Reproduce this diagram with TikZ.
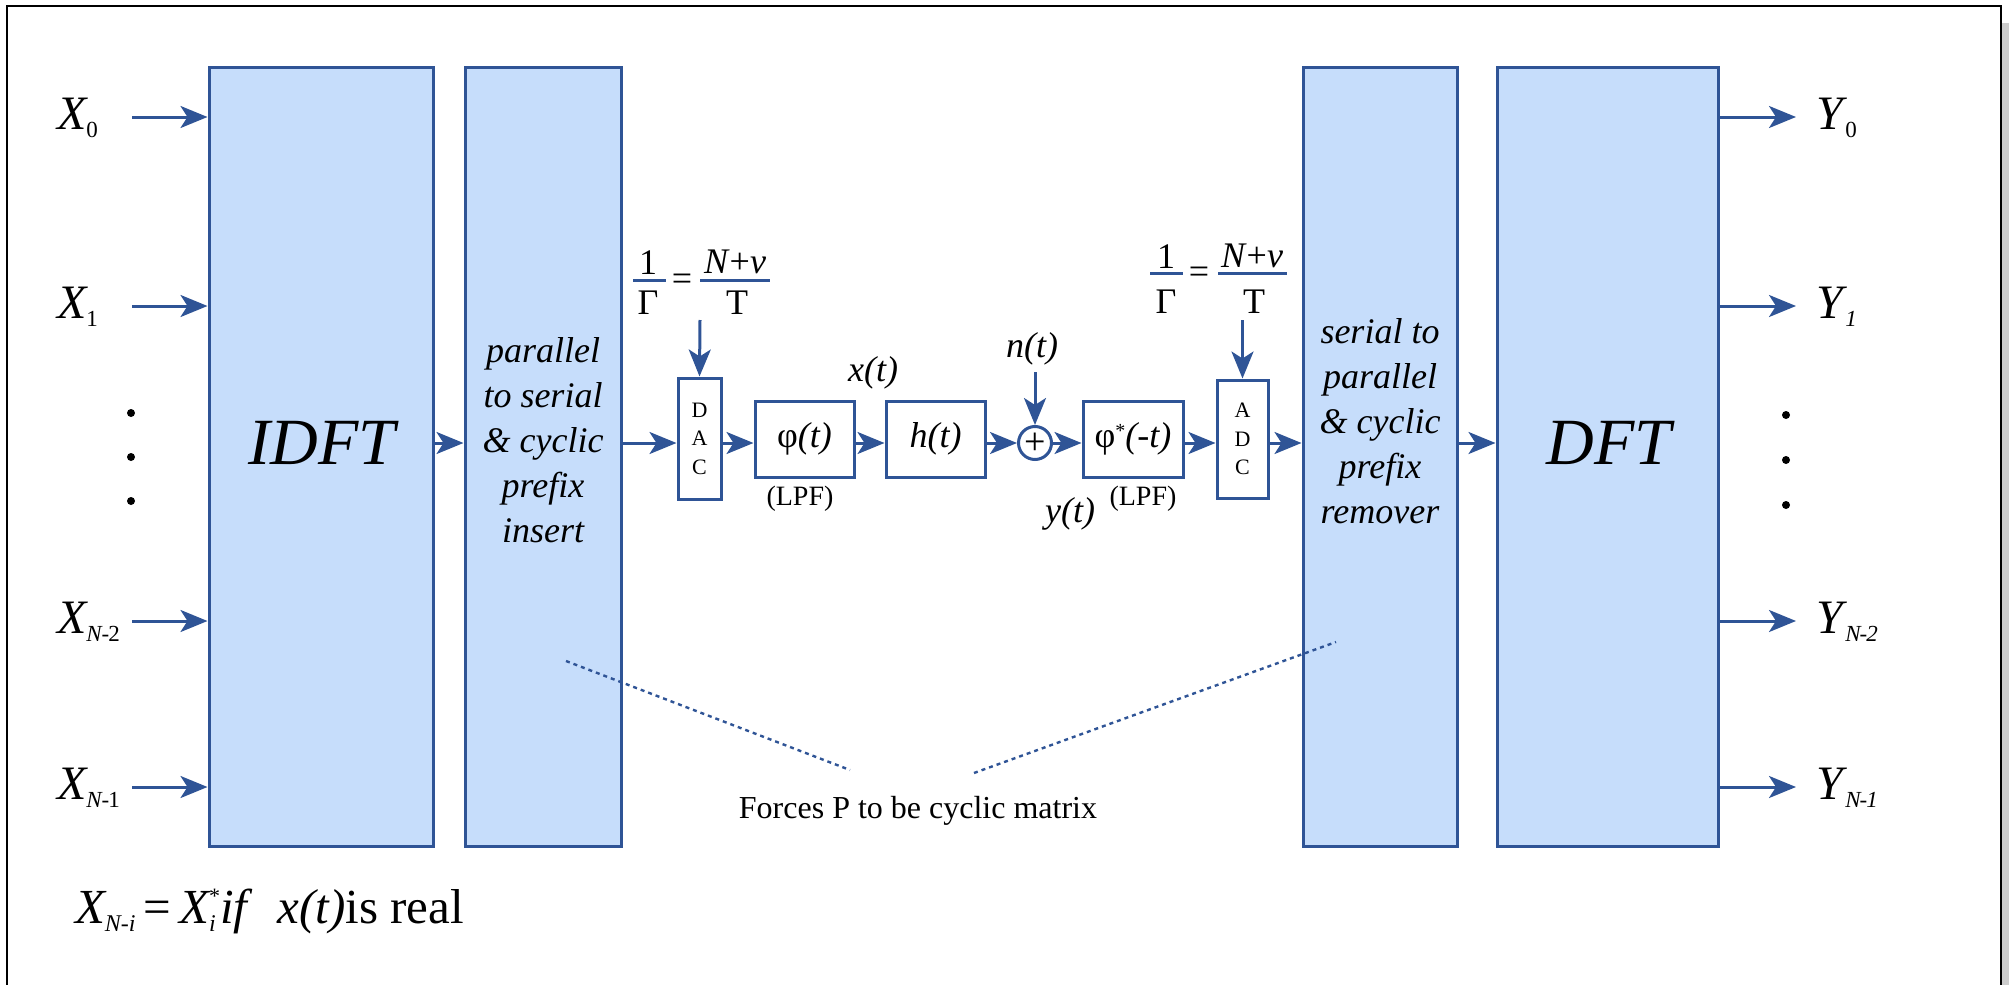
\documentclass[tikz,border=0pt]{standalone}
\usepackage{fontspec}
\setmainfont{Liberation Serif}
\usetikzlibrary{arrows.meta}
\definecolor{lineblue}{RGB}{47,84,150}
\definecolor{fillblue}{RGB}{198,221,251}
\definecolor{shadowgray}{RGB}{204,204,204}
\newcommand{\xlab}[2]{\textit{#1}\kern-1pt\raisebox{-4pt}{\fontsize{11.5pt}{11.5pt}\selectfont #2}}
\begin{document}
\begin{tikzpicture}[x=0.5pt,y=-0.5pt,
  bigbox/.style={draw=lineblue,fill=fillblue,line width=1.5pt,inner sep=0pt,minimum height=389.5pt},
  smallbox/.style={draw=lineblue,fill=white,line width=1.5pt,inner sep=0pt,align=center},
  arr/.style={-{Stealth[length=13.5pt,width=11pt,inset=3.5pt]},draw=lineblue,line width=1.5pt},
  dotline/.style={draw=lineblue,line width=1.2pt,dash pattern=on 2pt off 2pt},
  bar/.style={draw=lineblue,line width=1.5pt},
  bigtxt/.style={inner sep=0pt,font=\fontsize{33pt}{33pt}\selectfont\itshape},
  boxtxt/.style={inner sep=0pt,align=center,font=\fontsize{18pt}{22.5pt}\selectfont\itshape},
  lab/.style={inner sep=0pt,font=\fontsize{18pt}{22.5pt}\selectfont},
  lpf/.style={inner sep=0pt,font=\fontsize{14pt}{14pt}\selectfont},
  iolab/.style={inner sep=0pt,anchor=base west,font=\fontsize{24pt}{24pt}\selectfont},
  dacfont/.style={font=\fontsize{11pt}{14.25pt}\selectfont}
]
\useasboundingbox (0,0) rectangle (2009,985);
% frame and shadow
\fill[shadowgray] (2002,23) rectangle (2012,1010);
\draw[line width=1.1pt] (7,6) rectangle (2001,1010);

% big boxes
\node[bigbox,minimum width=112pt] (idft) at (321,456.5) {};
\node[bigbox,minimum width=78pt] (ps) at (543,456.5) {};
\node[bigbox,minimum width=77pt] (sp) at (1380,456.5) {};
\node[bigbox,minimum width=110.5pt] (dft) at (1607.5,456.5) {};

\node[bigtxt] (idftt) at (322,443) {IDFT};
\node[bigtxt] (dftt) at (1609,443) {DFT};
\node[boxtxt] (pst) at (543,440) {parallel\\to serial\\\&{} cyclic\\prefix\\insert};
\node[boxtxt] (spt) at (1380,421) {serial to\\parallel\\\&{} cyclic\\prefix\\remover};

% small boxes
\node[smallbox,dacfont,minimum width=21.5pt,minimum height=60.5pt] (dac) at (699.5,438.5) {D\\A\\C};
\node[smallbox,lab,minimum width=49.5pt,minimum height=38pt] (phi) at (804.5,439) {φ\textit{(t)}};
\node[smallbox,lab,minimum width=49.5pt,minimum height=38pt] (h) at (935.5,439) {\textit{h(t)}};
\node[draw=lineblue,fill=white,line width=1.5pt,circle,inner sep=0pt,minimum size=16.5pt,font=\fontsize{19pt}{19pt}\selectfont] (sum) at (1035,443) {};
\node[inner sep=0pt,font=\fontsize{19pt}{19pt}\selectfont] (plus) at (1035,444) {+};
\node[smallbox,lab,minimum width=50pt,minimum height=38pt] (phis) at (1133,439) {φ\raisebox{5pt}{\fontsize{10pt}{10pt}\selectfont *}\textit{(-t)}};
\node[smallbox,dacfont,minimum width=25.5pt,minimum height=59pt] (adc) at (1242.5,439) {A\\D\\C};

% signal row
\coordinate (sig) at (0,443);
\draw[arr] (idft.east |- sig) -- (ps.west |- sig);
\draw[arr] (ps.east |- sig) -- (dac.west |- sig);
\draw[arr] (dac.east |- sig) -- (phi.west |- sig);
\draw[arr] (phi.east |- sig) -- (h.west |- sig);
\draw[arr] (h.east |- sig) -- (sum.west);
\draw[arr] (sum.east) -- (phis.west |- sig);
\draw[arr] (phis.east |- sig) -- (adc.west |- sig);
\draw[arr] (adc.east |- sig) -- (sp.west |- sig);
\draw[arr] (sp.east |- sig) -- (dft.west |- sig);

% labels
\node[lab,anchor=base] (xt) at (873,381) {\textit{x(t)}};
\node[lab,anchor=base] (nt) at (1032,357) {\textit{n(t)}};
\node[lab,anchor=base] (yt) at (1070,522) {\textit{y(t)}};
\node[lpf,anchor=base] (lpf1) at (800,505) {(LPF)};
\node[lpf,anchor=base] (lpf2) at (1143,505) {(LPF)};
\coordinate (nts) at (1035,372);
\draw[arr] (nts) -- (sum.north);

% fractions
\node[lab,anchor=base] (num1) at (648,274) {1};
\node[lab,anchor=base] (den1) at (648,314) {Γ};
\node[lab,anchor=base] (eqs1) at (682,290) {=};
\node[lab,anchor=base] (num2) at (735,273) {\textit{N}+\textit{v}};
\node[lab,anchor=base] (den2) at (737,314) {T};
\draw[bar] (633,280) -- (666,280);
\draw[bar] (700,280) -- (770,280);
\coordinate (fa1) at (700,320);
\draw[arr] (fa1) -- (dac.north);

\node[lab,anchor=base] (num3) at (1166,268) {1};
\node[lab,anchor=base] (den3) at (1166,313) {Γ};
\node[lab,anchor=base] (eqs2) at (1199,283) {=};
\node[lab,anchor=base] (num4) at (1252,267) {\textit{N}+\textit{v}};
\node[lab,anchor=base] (den4) at (1254,313) {T};
\draw[bar] (1150,273) -- (1183,273);
\draw[bar] (1218,273) -- (1287,273);
\coordinate (fa2) at (1242.5,320);
\draw[arr] (fa2) -- (adc.north);

% inputs
\node[iolab] (x0) at (57,129) {\xlab{X}{0}};
\node[iolab] (x1) at (57,318) {\xlab{X}{1}};
\node[iolab] (xn2) at (57,633) {\xlab{X}{\textit{N}\kern-0.5pt-\kern-0.5pt2}};
\node[iolab] (xn1) at (57,799) {\xlab{X}{\textit{N}\kern-0.5pt-\kern-0.5pt1}};
\foreach \n/\yy in {a/117,b/306,c/621,d/787}{
  \coordinate (in\n) at (132,\yy);
  \draw[arr] (in\n) -- (in\n -| idft.west);
}
% outputs
\node[iolab] (y0) at (1816,129) {\xlab{Y}{0}};
\node[iolab] (y1) at (1816,318) {\xlab{Y}{\textit{1}}};
\node[iolab] (yn2) at (1816,633) {\xlab{Y}{\textit{N\kern-0.5pt-\kern-0.5pt2}}};
\node[iolab] (yn1) at (1816,799) {\xlab{Y}{\textit{N\kern-0.5pt-\kern-0.5pt1}}};
\foreach \n/\yy in {a/117,b/306,c/621,d/787}{
  \coordinate (out\n) at (1796,\yy);
  \draw[arr] (out\n -| dft.east) -- (out\n);
}
% dots
\foreach \yy in {413,457,501}{\fill (131,\yy) circle (2pt);}
\foreach \yy in {415,460,505}{\fill (1786,\yy) circle (2pt);}

% dotted lines and note
\coordinate (d1s) at (566,661);
\coordinate (d1e) at (850,770);
\coordinate (d2s) at (974,773);
\coordinate (d2e) at (1336,642);
\draw[dotline] (d1s) -- (d1e);
\draw[dotline] (d2s) -- (d2e);
\node[inner sep=0pt,font=\fontsize{16pt}{16pt}\selectfont] (note) at (918,811) {Forces P to be cyclic matrix};

% bottom equation
\node[iolab,font=\fontsize{24.5pt}{24.5pt}\selectfont] (eqn) at (75,923) {\textit{X}\kern-1pt\raisebox{-4pt}{\fontsize{12pt}{12pt}\selectfont\textit{N-i}}\,=\,\textit{X}\kern-1pt\rlap{\raisebox{-4pt}{\fontsize{12pt}{12pt}\selectfont\textit{i}}}\raisebox{10pt}{\fontsize{11pt}{11pt}\selectfont *}\textit{if}\ \ \textit{x(t)}is real};
\end{tikzpicture}
\end{document}
